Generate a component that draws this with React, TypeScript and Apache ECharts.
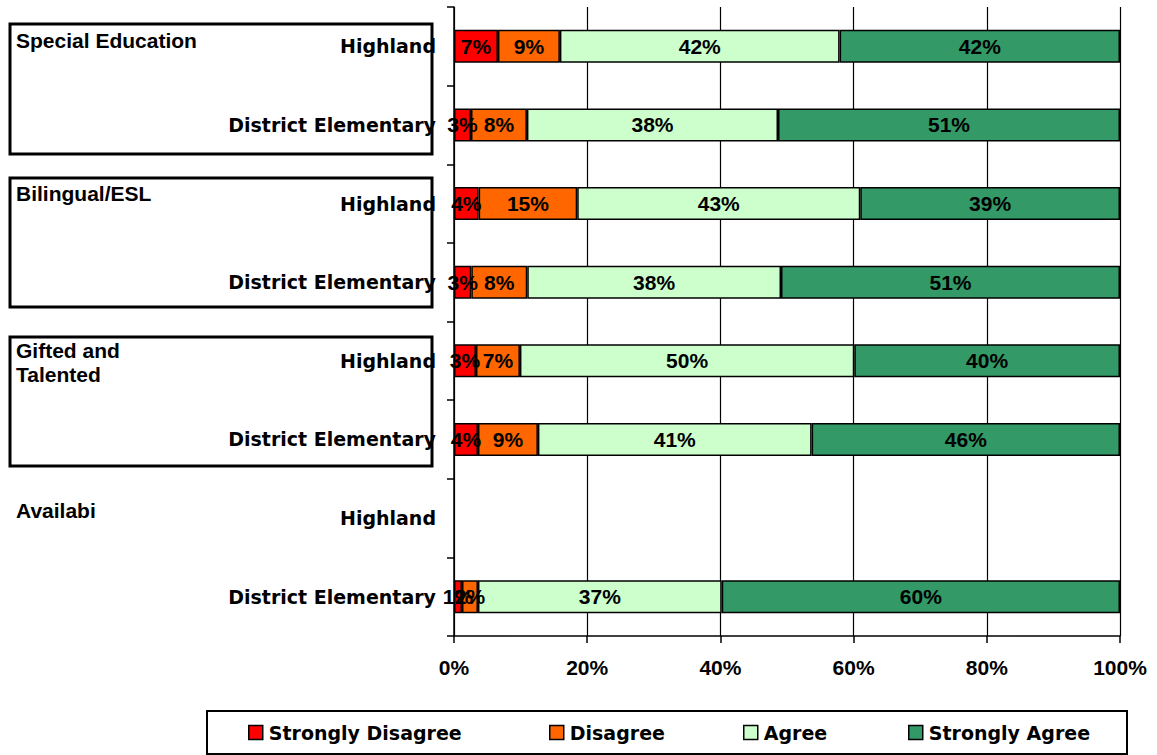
import React, { useEffect, useRef } from "react";
import * as echarts from "echarts";

const rowLabels = [
  "Highland",
  "District Elementary",
  "Highland",
  "District Elementary",
  "Highland",
  "District Elementary",
  "Highland",
  "District Elementary",
];

const seriesNames = ["Strongly Disagree", "Disagree", "Agree", "Strongly Agree"];
const seriesColors = ["#FF0000", "#FF6600", "#CCFFCC", "#339966"];

const stronglyDisagree = [6.6, 2.55, 3.7, 2.6, 3.3, 3.6, null, 1.2];
const disagree = [9.3, 8.4, 14.8, 8.4, 6.6, 9.0, null, 2.4];
const agree = [42.0, 37.7, 42.5, 38.1, 50.2, 41.1, null, 36.6];
const stronglyAgree = [42.1, 51.35, 39.0, 50.9, 39.9, 46.3, null, 59.8];

const seriesValues = [stronglyDisagree, disagree, agree, stronglyAgree];

const groupLabels = ["Special Education", "Bilingual/ESL", "Gifted and\nTalented", "Availabi"];
const xTicks = [0, 20, 40, 60, 80, 100];

const FONT = "'Liberation Sans', Arial, sans-serif";
const WIDE_FONT = "'DejaVu Sans', sans-serif";

export default function App() {
  const ref = useRef<HTMLDivElement>(null);
  useEffect(() => {
    if (!ref.current) return;
    const chart = echarts.init(ref.current, null, { renderer: "svg" });

    const groupBoxes = [
      { x: 10, y: 24, w: 422, h: 130, boxed: true, ty: 28 },
      { x: 10, y: 178, w: 422, h: 129, boxed: true, ty: 181 },
      { x: 10, y: 337, w: 422, h: 129, boxed: true, ty: 338 },
      { x: 10, y: 494, w: 422, h: 129, boxed: false, ty: 498 },
    ];
    const graphics: any[] = [];
    groupBoxes.forEach((b, i) => {
      if (b.boxed) {
        graphics.push({
          type: "rect",
          shape: { x: b.x, y: b.y, width: b.w, height: b.h },
          style: { fill: "none", stroke: "#000", lineWidth: 3 },
          z: 10,
        });
      }
      graphics.push({
        type: "text",
        x: 16,
        y: b.ty,
        style: {
          text: groupLabels[i],
          font: `bold 21px ${FONT}`,
          fill: "#000",
          lineHeight: 24,
          verticalAlign: "top",
        },
        z: 10,
      });
    });
    graphics.push({
      type: "rect",
      shape: { x: 207, y: 711, width: 920, height: 43 },
      style: { fill: "none", stroke: "#000", lineWidth: 2 },
    });

    const legendLefts = [248, 549, 743, 908];

    chart.setOption({
      animation: false,
      backgroundColor: "#fff",
      grid: { left: 454, right: 37, top: 7, bottom: 119, containLabel: false },
      xAxis: {
        type: "value",
        min: 0,
        max: 100,
        interval: 20,
        axisLine: { show: true, lineStyle: { color: "#000", width: 1.5 } },
        axisTick: { show: true, length: 7, lineStyle: { color: "#000", width: 1.5 } },
        splitLine: { show: true, lineStyle: { color: "#000", width: 1.2 } },
        axisLabel: {
          formatter: (v: number) => (xTicks.includes(v) ? `${v}%` : ""),
          color: "#000",
          fontWeight: "bold",
          fontSize: 21,
          fontFamily: FONT,
          margin: 21,
        },
      },
      yAxis: {
        type: "category",
        inverse: true,
        data: rowLabels.map((_, i) => String(i)),
        axisLine: { show: true, lineStyle: { color: "#000", width: 1.5 } },
        axisTick: { show: true, length: 7, lineStyle: { color: "#000", width: 1.5 } },
        axisLabel: {
          formatter: (v: string) => rowLabels[Number(v)],
          color: "#000",
          fontWeight: "bold",
          fontSize: 19,
          fontFamily: WIDE_FONT,
          margin: 18,
        },
        splitLine: { show: false },
      },
      legend: legendLefts.map((left, i) => ({
        data: [seriesNames[i]],
        left,
        top: 723,
        padding: 0,
        itemWidth: 14,
        itemHeight: 14,
        itemGap: 0,
        icon: "rect",
        selectedMode: false,
        itemStyle: { borderColor: "#000", borderWidth: 1.5 },
        textStyle: {
          color: "#000",
          fontWeight: "bold",
          fontSize: 19,
          fontFamily: WIDE_FONT,
          padding: [0, 0, 0, 1],
        },
      })),
      series: seriesNames.map((name, i) => ({
        name,
        type: "bar",
        stack: "total",
        barWidth: 33,
        data: seriesValues[i].map((v) => (v === null ? "-" : v)),
        itemStyle: { color: seriesColors[i], borderColor: "#000", borderWidth: 1.5 },
        label: {
          show: true,
          position: "inside",
          formatter: (p: any) => `${Math.round(p.value)}%`,
          color: "#000",
          fontWeight: "bold",
          fontSize: 21,
          fontFamily: FONT,
        },
      })),
      graphic: graphics,
    });

    return () => chart.dispose();
  }, []);

  return (
    <div
      ref={ref}
      style={{ position: "absolute", left: 0, top: 0, width: 1157, height: 755 }}
    />
  );
}
